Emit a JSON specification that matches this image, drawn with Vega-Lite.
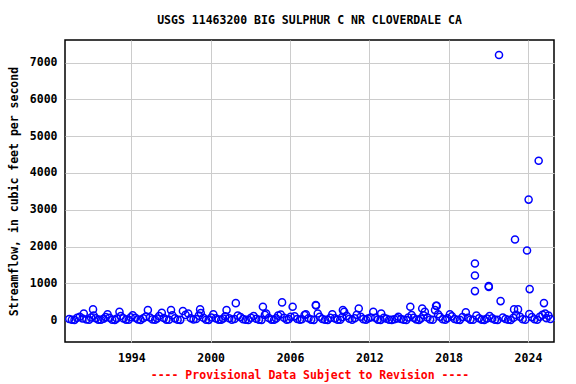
{
  "$schema": "https://vega.github.io/schema/vega-lite/v6.json",
  "width": 489,
  "height": 302,
  "autosize": {"type": "none"},
  "padding": {"left": 65, "top": 40, "right": 22, "bottom": 42},
  "background": "white",
  "title": {
    "text": "USGS 11463200 BIG SULPHUR C NR CLOVERDALE CA",
    "font": "DejaVu Sans Mono",
    "fontSize": 11.5,
    "fontWeight": "bold",
    "color": "black",
    "anchor": "middle",
    "offset": 14
  },
  "config": {
    "view": {"stroke": "black", "strokeWidth": 1.5},
    "axis": {
      "labelFont": "DejaVu Sans Mono",
      "labelFontSize": 11.5,
      "labelFontWeight": "bold",
      "labelColor": "black",
      "titleFont": "DejaVu Sans Mono",
      "titleFontSize": 11.5,
      "titleFontWeight": "bold",
      "grid": true,
      "gridColor": "#cccccc",
      "gridWidth": 1,
      "domain": false,
      "ticks": false
    }
  },
  "data": {
    "values": [
      {"t":1989.3,"q":30},{"t":1989.5,"q":10},{"t":1989.7,"q":5},{"t":1989.9,"q":60},
      {"t":1990.1,"q":90},{"t":1990.3,"q":40},{"t":1990.4,"q":180},{"t":1990.6,"q":15},{"t":1990.8,"q":8},{"t":1990.95,"q":70},
      {"t":1991.1,"q":290},{"t":1991.15,"q":120},{"t":1991.3,"q":50},{"t":1991.5,"q":12},{"t":1991.7,"q":6},{"t":1991.9,"q":35},
      {"t":1992.05,"q":80},{"t":1992.2,"q":155},{"t":1992.35,"q":60},{"t":1992.55,"q":10},{"t":1992.75,"q":5},{"t":1992.9,"q":40},
      {"t":1993.1,"q":225},{"t":1993.2,"q":110},{"t":1993.4,"q":45},{"t":1993.6,"q":12},{"t":1993.8,"q":7},{"t":1993.95,"q":75},
      {"t":1994.1,"q":130},{"t":1994.3,"q":60},{"t":1994.5,"q":15},{"t":1994.7,"q":5},{"t":1994.9,"q":50},
      {"t":1995.1,"q":95},{"t":1995.25,"q":270},{"t":1995.4,"q":70},{"t":1995.6,"q":18},{"t":1995.8,"q":6},{"t":1995.95,"q":40},
      {"t":1996.1,"q":110},{"t":1996.3,"q":200},{"t":1996.45,"q":55},{"t":1996.65,"q":12},{"t":1996.85,"q":8},
      {"t":1997.0,"q":270},{"t":1997.1,"q":130},{"t":1997.3,"q":45},{"t":1997.5,"q":10},{"t":1997.7,"q":5},{"t":1997.9,"q":245},
      {"t":1998.1,"q":140},{"t":1998.3,"q":180},{"t":1998.5,"q":50},{"t":1998.7,"q":15},{"t":1998.9,"q":30},
      {"t":1999.1,"q":120},{"t":1999.2,"q":290},{"t":1999.25,"q":190},{"t":1999.45,"q":60},{"t":1999.65,"q":10},{"t":1999.85,"q":5},
      {"t":2000.05,"q":70},{"t":2000.2,"q":155},{"t":2000.4,"q":45},{"t":2000.6,"q":12},{"t":2000.8,"q":6},{"t":2000.95,"q":40},
      {"t":2001.1,"q":100},{"t":2001.2,"q":270},{"t":2001.4,"q":50},{"t":2001.6,"q":10},{"t":2001.8,"q":30},{"t":2001.9,"q":460},
      {"t":2002.05,"q":120},{"t":2002.25,"q":80},{"t":2002.45,"q":25},{"t":2002.65,"q":8},{"t":2002.85,"q":4},
      {"t":2003.05,"q":60},{"t":2003.25,"q":110},{"t":2003.45,"q":35},{"t":2003.65,"q":10},{"t":2003.85,"q":5},
      {"t":2003.95,"q":360},{"t":2004.1,"q":140},{"t":2004.2,"q":180},{"t":2004.4,"q":55},{"t":2004.6,"q":12},{"t":2004.8,"q":6},{"t":2004.95,"q":45},
      {"t":2005.1,"q":120},{"t":2005.3,"q":150},{"t":2005.4,"q":480},{"t":2005.55,"q":60},{"t":2005.75,"q":10},{"t":2005.9,"q":25},
      {"t":2006.05,"q":90},{"t":2006.2,"q":360},{"t":2006.35,"q":100},{"t":2006.55,"q":30},{"t":2006.75,"q":8},{"t":2006.9,"q":20},
      {"t":2007.1,"q":135},{"t":2007.2,"q":155},{"t":2007.4,"q":50},{"t":2007.6,"q":12},{"t":2007.8,"q":5},{"t":2007.95,"q":407},{"t":2007.97,"q":395},
      {"t":2008.1,"q":180},{"t":2008.25,"q":90},{"t":2008.45,"q":30},{"t":2008.65,"q":10},{"t":2008.85,"q":5},
      {"t":2009.05,"q":60},{"t":2009.2,"q":155},{"t":2009.4,"q":45},{"t":2009.6,"q":10},{"t":2009.8,"q":6},{"t":2009.95,"q":80},
      {"t":2010.0,"q":270},{"t":2010.1,"q":225},{"t":2010.3,"q":110},{"t":2010.5,"q":35},{"t":2010.7,"q":10},{"t":2010.9,"q":50},
      {"t":2011.05,"q":140},{"t":2011.2,"q":315},{"t":2011.35,"q":90},{"t":2011.55,"q":25},{"t":2011.75,"q":8},{"t":2011.9,"q":40},
      {"t":2012.1,"q":70},{"t":2012.3,"q":225},{"t":2012.45,"q":60},{"t":2012.65,"q":12},{"t":2012.85,"q":5},{"t":2012.9,"q":180},
      {"t":2013.1,"q":60},{"t":2013.3,"q":35},{"t":2013.5,"q":10},{"t":2013.7,"q":4},{"t":2013.9,"q":20},
      {"t":2014.1,"q":45},{"t":2014.2,"q":90},{"t":2014.4,"q":30},{"t":2014.6,"q":6},{"t":2014.8,"q":3},{"t":2014.95,"q":70},
      {"t":2015.1,"q":360},{"t":2015.2,"q":135},{"t":2015.35,"q":60},{"t":2015.55,"q":15},{"t":2015.75,"q":5},{"t":2015.9,"q":40},
      {"t":2016.0,"q":315},{"t":2016.1,"q":130},{"t":2016.2,"q":225},{"t":2016.4,"q":70},{"t":2016.6,"q":15},{"t":2016.8,"q":8},{"t":2016.97,"q":270},
      {"t":2017.05,"q":390},{"t":2017.1,"q":385},{"t":2017.2,"q":160},{"t":2017.35,"q":90},{"t":2017.55,"q":20},{"t":2017.75,"q":8},{"t":2017.9,"q":50},
      {"t":2018.1,"q":155},{"t":2018.25,"q":100},{"t":2018.45,"q":30},{"t":2018.65,"q":10},{"t":2018.85,"q":5},
      {"t":2019.05,"q":80},{"t":2019.3,"q":210},{"t":2019.45,"q":60},{"t":2019.65,"q":12},{"t":2019.85,"q":6},
      {"t":2019.99,"q":1538},{"t":2019.99,"q":1213},{"t":2019.99,"q":787},
      {"t":2020.1,"q":120},{"t":2020.3,"q":50},{"t":2020.5,"q":12},{"t":2020.7,"q":5},{"t":2020.9,"q":40},
      {"t":2021.03,"q":922},{"t":2021.04,"q":900},{"t":2021.1,"q":110},{"t":2021.3,"q":45},{"t":2021.5,"q":10},{"t":2021.7,"q":5},{"t":2021.81,"q":7208},{"t":2021.93,"q":515},
      {"t":2022.1,"q":70},{"t":2022.3,"q":30},{"t":2022.5,"q":8},{"t":2022.7,"q":3},{"t":2022.9,"q":60},
      {"t":2022.95,"q":290},{"t":2023.02,"q":2189},{"t":2023.1,"q":140},{"t":2023.25,"q":290},{"t":2023.4,"q":90},{"t":2023.6,"q":20},{"t":2023.8,"q":8},{"t":2023.93,"q":1891},
      {"t":2024.05,"q":3275},{"t":2024.1,"q":165},{"t":2024.13,"q":841},{"t":2024.3,"q":80},{"t":2024.5,"q":20},{"t":2024.7,"q":10},{"t":2024.81,"q":4333},{"t":2024.9,"q":90},
      {"t":2025.1,"q":140},{"t":2025.21,"q":461},{"t":2025.3,"q":180},{"t":2025.4,"q":50},{"t":2025.55,"q":120},{"t":2025.7,"q":30}
    ]
  },
  "mark": {"type": "point", "filled": false, "color": "#0000ff", "size": 50, "strokeWidth": 1.5, "opacity": 1},
  "encoding": {
    "x": {
      "field": "t",
      "type": "quantitative",
      "scale": {"domain": [1988.98, 2025.97], "nice": false, "zero": false},
      "axis": {
        "values": [1994, 2000, 2006, 2012, 2018, 2024],
        "format": "d",
        "labelPadding": 10,
        "title": "---- Provisional Data Subject to Revision ----",
        "titleColor": "red",
        "titlePadding": 6
      }
    },
    "y": {
      "field": "q",
      "type": "quantitative",
      "scale": {"domain": [-597, 7616], "nice": false, "zero": false},
      "axis": {
        "values": [0, 1000, 2000, 3000, 4000, 5000, 6000, 7000],
        "format": "d",
        "labelPadding": 8,
        "title": "Streamflow, in cubic feet per second",
        "titleColor": "black",
        "titlePadding": 10
      }
    }
  }
}
